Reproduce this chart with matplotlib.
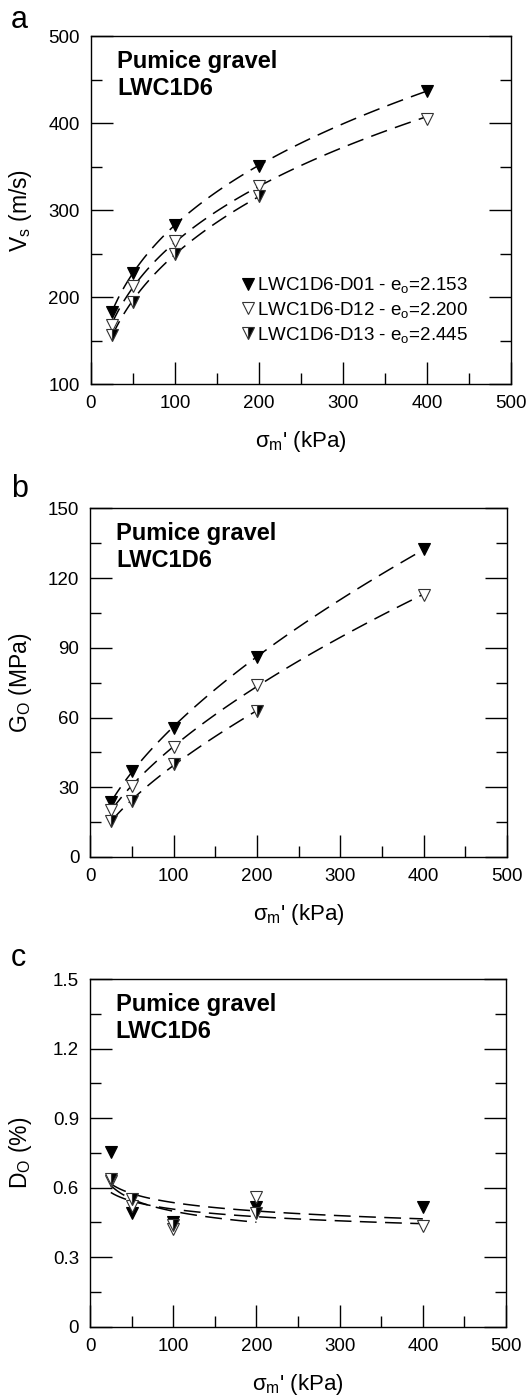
"""Vs, Go and Do of pumice gravel LWC1D6 against mean effective stress."""

import matplotlib
matplotlib.use("Agg")
import matplotlib.pyplot as plt
import numpy as np

plt.rcParams["font.family"] = ["Liberation Sans", "DejaVu Sans"]
plt.rcParams["mathtext.fontset"] = "custom"
plt.rcParams["mathtext.rm"] = "Liberation Sans"
plt.rcParams["mathtext.it"] = "Liberation Sans:italic"
plt.rcParams["mathtext.bf"] = "Liberation Sans:bold"

# mean effective stress (kPa)
stress_d01 = [25, 50, 100, 200, 400]
stress_d12 = [25, 50, 100, 200, 400]
stress_d13 = [25, 50, 100, 200]

# shear wave velocity (m/s)
vs_d01 = [183, 228, 283, 351, 437]
vs_d12 = [168, 213, 264, 328, 405]
vs_d13 = [156, 194, 250, 316]

# small strain shear modulus (MPa)
go_d01 = [23.8, 37.1, 55.7, 86.0, 132.7]
go_d12 = [20.2, 30.6, 47.4, 74.0, 112.9]
go_d13 = [15.6, 24.2, 40.0, 62.9]

# small strain damping (%)
do_d01 = [0.752, 0.49, 0.45, 0.515, 0.516]
do_d12 = [0.63, 0.52, 0.42, 0.56, 0.436]
do_d13 = [0.636, 0.55, 0.44, 0.49]

labels = [
    r"LWC1D6-D01 - e$_\mathrm{o}$=2.153",
    r"LWC1D6-D12 - e$_\mathrm{o}$=2.200",
    r"LWC1D6-D13 - e$_\mathrm{o}$=2.445",
]

MARKERS = [
    dict(marker="v", markerfacecolor="black", markeredgecolor="black"),
    dict(marker="v", markerfacecolor="white", markeredgecolor="#333333"),
    dict(marker="v", fillstyle="right", markerfacecolor="black",
         markerfacecoloralt="white", markeredgecolor="#333333"),
]


def power_fit(x, y):
    """Fit y = a * x**b in log space and return a smooth curve."""
    b, ln_a = np.polyfit(np.log(x), np.log(y), 1)
    xs = np.linspace(min(x), max(x), 100)
    return xs, np.exp(ln_a) * xs ** b


def style_axes(ax):
    ax.set_xlim(0, 500)
    ax.set_xticks(np.arange(0, 501, 100))
    ax.set_xticks(np.arange(50, 500, 100), minor=True)
    ax.tick_params(axis="both", which="both", direction="in", width=1.0,
                   labelsize=13.5, pad=8)
    ax.tick_params(axis="both", which="major", length=15.5)
    ax.tick_params(axis="both", which="minor", length=8)
    ax.tick_params(axis="x", which="both", top=False)
    ax.tick_params(axis="y", which="both", left=True, right=True)
    for sp in ax.spines.values():
        sp.set_linewidth(1.0)
    ax.text(0.062, 0.908, "Pumice gravel", transform=ax.transAxes,
            fontsize=17, fontweight="bold", va="baseline")
    ax.text(0.062, 0.831, "LWC1D6", transform=ax.transAxes,
            fontsize=17, fontweight="bold", va="baseline")
    ax.set_xlabel(r"σ$_\mathrm{m}$' (kPa)", fontsize=16)
    ax.xaxis.set_label_coords(0.5, -0.13)
    ax.yaxis.set_label_coords(-0.135, 0.5)


def draw_panel(ax, series):
    for x, y in series:
        xs, ys = power_fit(x, y)
        ax.plot(xs, ys, color="black", lw=1.1, ls=(0, (11, 5.5)), zorder=2)
    for (x, y), mk, lab in zip(series, MARKERS, labels):
        ax.plot(x, y, ls="none", markersize=9, markeredgewidth=0.8,
                label=lab, zorder=3, **mk)


fig = plt.figure(figsize=(5.28, 13.98), dpi=100)
ax_a = fig.add_axes([0.1723, 0.7253, 0.7955, 0.2489])
ax_b = fig.add_axes([0.1714, 0.3870, 0.7888, 0.2494])
ax_c = fig.add_axes([0.1705, 0.0510, 0.7879, 0.2487])

# a: shear wave velocity
draw_panel(ax_a, [(stress_d01, vs_d01), (stress_d12, vs_d12), (stress_d13, vs_d13)])
ax_a.set_ylim(100, 500)
ax_a.set_yticks(np.arange(100, 501, 100))
ax_a.set_yticks(np.arange(150, 500, 100), minor=True)
ax_a.set_ylabel(r"V$_\mathrm{s}$ (m/s)", fontsize=16.5)
style_axes(ax_a)
ax_a.legend(loc="center left", bbox_to_anchor=(0.355, 0.2126), frameon=False,
            fontsize=13.5, numpoints=1, handlelength=0.8, handletextpad=0.1,
            borderpad=0, borderaxespad=0, labelspacing=0.25)

# b: shear modulus
draw_panel(ax_b, [(stress_d01, go_d01), (stress_d12, go_d12), (stress_d13, go_d13)])
ax_b.set_ylim(0, 150)
ax_b.set_yticks(np.arange(0, 151, 30))
ax_b.set_yticks(np.arange(15, 150, 30), minor=True)
ax_b.set_ylabel(r"G$_\mathrm{O}$ (MPa)", fontsize=16.5)
style_axes(ax_b)

# c: damping ratio
draw_panel(ax_c, [(stress_d01, do_d01), (stress_d12, do_d12), (stress_d13, do_d13)])
ax_c.set_ylim(0, 1.5)
ax_c.set_yticks([0, 0.3, 0.6, 0.9, 1.2, 1.5])
ax_c.set_yticklabels(["0", "0.3", "0.6", "0.9", "1.2", "1.5"])
ax_c.set_yticks(np.arange(0.15, 1.5, 0.3), minor=True)
ax_c.set_ylabel(r"D$_\mathrm{O}$ (%)", fontsize=16.5)
style_axes(ax_c)

# panel letters
for letter, ypix in [("a", 28), ("b", 497), ("c", 966)]:
    fig.text(11 / 528, 1 - ypix / 1398, letter, fontsize=22, va="baseline")

fig.savefig("out.png", dpi=100)
